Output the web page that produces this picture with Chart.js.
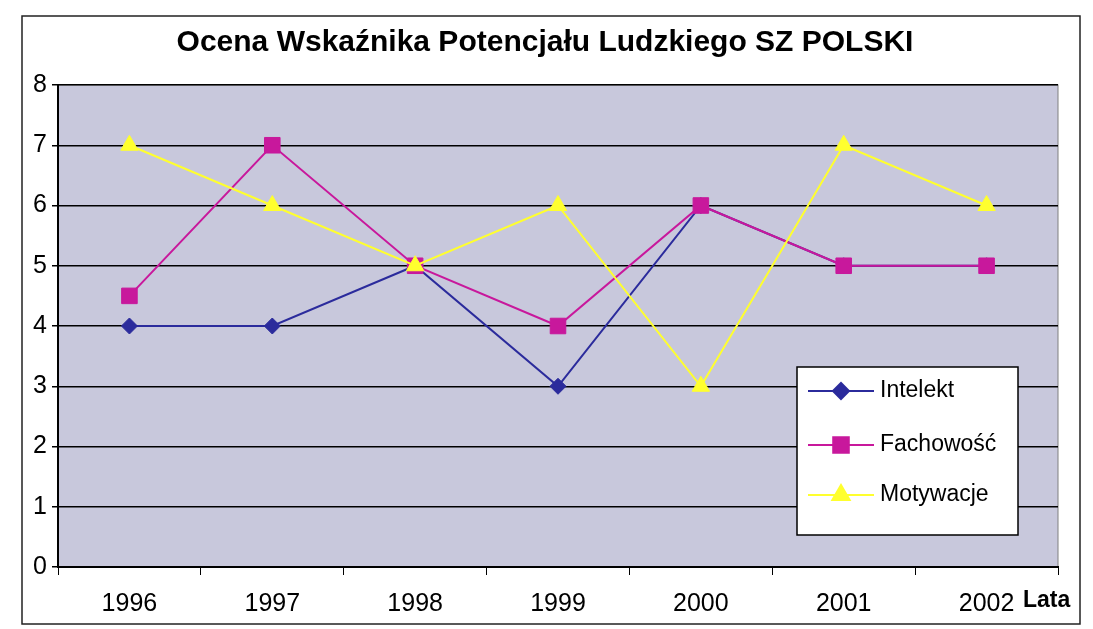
<!DOCTYPE html>
<html>
<head>
<meta charset="utf-8">
<script src="https://cdn.jsdelivr.net/npm/chart.js@4"></script>
<style>
  body { margin: 0; background: #fff; }
  #wrap { width: 1093px; height: 629px; }
</style>
</head>
<body>
<div id="wrap"><canvas id="chart" width="1093" height="629"></canvas></div>
<script>
const titleText = 'Ocena Wskaźnika Potencjału Ludzkiego SZ POLSKI';
const years = ['1996', '1997', '1998', '1999', '2000', '2001', '2002'];
const seriesNames = ['Intelekt', 'Fachowość', 'Motywacje'];
const intelekt = [4, 4, 5, 3, 6, 5, 5];
const fachowosc = [4.5, 7, 5, 4, 6, 5, 5];
const motywacje = [7, 6, 5, 6, 3, 7, 6];
const yTicks = [0, 1, 2, 3, 4, 5, 6, 7, 8];

const colors = ['#2b2b9c', '#c8189c', '#ffff2e'];
const markers = ['rectRot', 'rect', 'triangle'];
const markerSizes = [8, 11, 10];

function makeSet(i, values) {
    return {
        label: seriesNames[i],
        data: values,
        order: 3 - i,
        borderColor: colors[i],
        backgroundColor: colors[i],
        pointBackgroundColor: colors[i],
        pointBorderColor: colors[i],
        pointStyle: markers[i],
        pointRadius: markerSizes[i],
        pointBorderWidth: 1,
        borderWidth: 2,
        tension: 0
    };
}

const decorations = {
    id: 'decorations',
    beforeDraw(chart) {
        const ctx = chart.ctx;
        const a = chart.chartArea;
        ctx.save();
        ctx.fillStyle = '#c8c8dc';
        ctx.fillRect(a.left, a.top, a.right - a.left, a.bottom - a.top);
        ctx.strokeStyle = '#808080';
        ctx.lineWidth = 1;
        ctx.strokeRect(a.left, a.top, a.right - a.left, a.bottom - a.top);
        ctx.restore();
    },
    afterDraw(chart) {
        const ctx = chart.ctx;
        ctx.save();
        // outer frame
        ctx.strokeStyle = '#222';
        ctx.lineWidth = 1.5;
        ctx.strokeRect(22, 16, 1058, 608);
        // title
        ctx.fillStyle = '#000';
        ctx.font = 'bold 30px "Liberation Sans", Arial, sans-serif';
        ctx.textAlign = 'center';
        ctx.textBaseline = 'middle';
        ctx.fillText(titleText, 545, 43);
        // axis title
        ctx.font = 'bold 23px "Liberation Sans", Arial, sans-serif';
        ctx.textAlign = 'left';
        ctx.fillText('Lata', 1023, 601);
        // legend
        const lx = 797, ly = 367, lw = 221, lh = 168;
        ctx.fillStyle = '#fff';
        ctx.fillRect(lx, ly, lw, lh);
        ctx.strokeStyle = '#000';
        ctx.lineWidth = 1.5;
        ctx.strokeRect(lx, ly, lw, lh);
        const rows = [391, 445, 495];
        chart.data.datasets.forEach((ds, i) => {
            const y = rows[i];
            ctx.strokeStyle = ds.borderColor;
            ctx.lineWidth = 2;
            ctx.beginPath();
            ctx.moveTo(808, y);
            ctx.lineTo(874, y);
            ctx.stroke();
            ctx.fillStyle = ds.pointBackgroundColor;
            Chart.helpers.drawPoint(ctx, {
                pointStyle: ds.pointStyle,
                radius: ds.pointRadius,
                rotation: 0,
                borderWidth: 1
            }, 841, y);
            ctx.fillStyle = '#000';
            ctx.font = '23px "Liberation Sans", Arial, sans-serif';
            ctx.textAlign = 'left';
            ctx.textBaseline = 'middle';
            ctx.fillText(ds.label, 880, y);
        });
        ctx.restore();
    }
};

const config = {
    type: 'line',
    data: {
        labels: years,
        datasets: [makeSet(0, intelekt), makeSet(1, fachowosc), makeSet(2, motywacje)]
    },
    options: {
        responsive: false,
        animation: false,
        layout: { padding: { left: 0, top: 85, right: 35, bottom: 0 } },
        plugins: {
            legend: { display: false },
            title: { display: false },
            tooltip: { enabled: false }
        },
        scales: {
            x: {
                offset: true,
                afterFit(scale) { scale.height = 62; },
                grid: {
                    offset: true,
                    drawOnChartArea: false,
                    drawTicks: true,
                    tickLength: 8,
                    color: '#000'
                },
                border: { color: '#000', width: 2 },
                ticks: {
                    color: '#000',
                    padding: 14,
                    font: { size: 25, family: '"Liberation Sans", Arial, sans-serif' }
                }
            },
            y: {
                min: 0,
                max: 8,
                afterFit(scale) { scale.width = 58; },
                afterBuildTicks(scale) { scale.ticks = yTicks.map(v => ({ value: v })); },
                grid: {
                    color: '#000',
                    lineWidth: 1.5,
                    tickLength: 6
                },
                border: { color: '#000', width: 2 },
                ticks: {
                    color: '#000',
                    padding: 5,
                    font: { size: 25, family: '"Liberation Sans", Arial, sans-serif' }
                }
            }
        }
    },
    plugins: [decorations]
};

window.addEventListener('DOMContentLoaded', () => {
    new Chart(document.getElementById('chart'), config);
});
</script>
</body>
</html>
